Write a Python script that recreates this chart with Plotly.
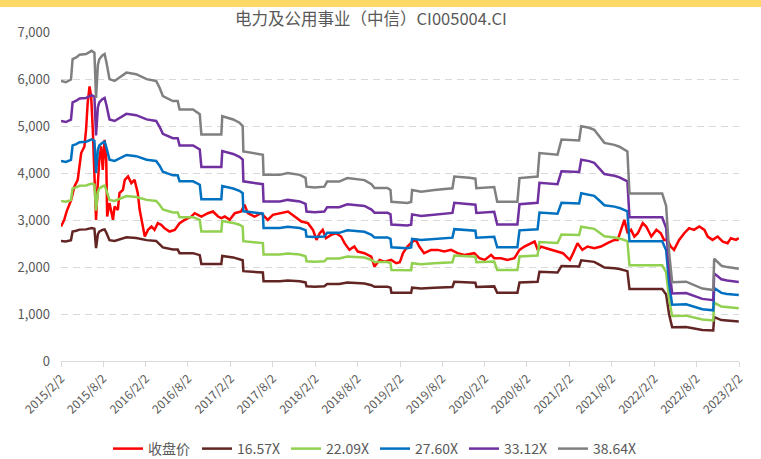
import plotly.graph_objects as go

# ---------------- data ----------------
price_dates = [
    "2015-02-02","2015-02-16","2015-02-26","2015-03-18","2015-04-01","2015-04-15","2015-04-30","2015-05-14",
    "2015-05-21","2015-05-28","2015-06-05","2015-06-12","2015-06-19","2015-06-26","2015-07-03","2015-07-10",
    "2015-07-17","2015-07-25","2015-08-01","2015-08-09","2015-08-16","2015-08-20","2015-08-30","2015-09-14",
    "2015-09-21","2015-10-05","2015-10-12","2015-10-27","2015-11-04","2015-11-18","2015-12-02","2015-12-16",
    "2015-12-23","2015-12-30","2016-01-07","2016-01-17","2016-01-29","2016-02-12","2016-02-27","2016-03-11",
    "2016-03-25","2016-04-09","2016-04-23","2016-05-15","2016-06-06","2016-06-27","2016-07-19","2016-08-17",
    "2016-08-31","2016-09-29","2016-10-27","2016-11-18","2016-12-10","2016-12-24","2017-01-08","2017-01-29",
    "2017-02-20","2017-03-19","2017-04-03","2017-04-17","2017-05-16","2017-06-14","2017-07-12","2017-08-03",
    "2017-09-09","2017-10-07","2017-11-05","2017-12-04","2018-01-01","2018-01-23","2018-02-07","2018-02-21",
    "2018-03-06","2018-03-20","2018-04-11","2018-05-02","2018-05-24","2018-06-08","2018-06-29","2018-07-20",
    "2018-08-04","2018-09-02","2018-10-01","2018-10-15","2018-11-06","2018-11-27","2018-12-26","2019-01-17",
    "2019-02-01","2019-02-15","2019-03-06","2019-03-28","2019-04-12","2019-04-26","2019-05-17","2019-06-16",
    "2019-07-14","2019-08-12","2019-09-10","2019-10-08","2019-11-07","2019-12-19","2020-01-10","2020-02-02",
    "2020-03-01","2020-03-14","2020-04-12","2020-05-11","2020-06-09","2020-07-01","2020-07-22","2020-08-20",
    "2020-09-04","2020-09-18","2020-10-02","2020-10-24","2020-11-15","2020-12-13","2021-01-04","2021-01-26",
    "2021-02-03","2021-02-17","2021-03-08","2021-03-29","2021-04-20","2021-05-19","2021-06-17","2021-07-15",
    "2021-08-14","2021-08-28","2021-09-12","2021-09-26","2021-10-10","2021-10-25","2021-11-08","2021-11-23",
    "2021-12-14","2021-12-29","2022-01-20","2022-02-11","2022-03-02","2022-03-16","2022-03-30","2022-04-14",
    "2022-04-28","2022-05-20","2022-06-11","2022-07-02","2022-07-23","2022-08-15","2022-09-06","2022-09-20",
    "2022-10-11","2022-11-02","2022-11-24","2022-12-15","2022-12-29","2023-01-20","2023-02-01",
]
price_values = [
    2861, 3003, 3180, 3429, 3713, 3855, 4424, 4565,
    4920, 5489, 5843, 5630, 4920, 4068, 3003, 3713,
    4281, 4565, 4068, 4707, 4281, 3074, 3359, 3003,
    3287, 3216, 3572, 3642, 3855, 3926, 3785, 3855,
    3713, 3572, 3216, 2933, 2648, 2790, 2861, 2790,
    2933, 2897, 2826, 2754, 2790, 2933, 3003, 3074,
    3145, 3074, 3145, 3180, 3074, 3038, 3074, 3003,
    3145, 3180, 3323, 3145, 3074, 3145, 3003, 3109,
    3145, 3180, 3074, 2968, 2933, 2790, 2577, 2719,
    2790, 2613, 2684, 2719, 2648, 2507, 2364, 2435,
    2328, 2294, 2222, 2009, 2151, 2115, 2151, 2081,
    2100, 2294, 2435, 2541, 2577, 2435, 2294, 2364,
    2364, 2328, 2364, 2294, 2258, 2294, 2187, 2151,
    2258, 2187, 2187, 2151, 2187, 2364, 2435, 2507,
    2541, 2364, 2435, 2400, 2364, 2328, 2294, 2187,
    2151, 2294, 2507, 2364, 2435, 2400, 2435, 2507,
    2577, 2577, 2790, 3003, 2719, 2790, 2648, 2719,
    2933, 2861, 2648, 2790, 2719, 2577, 2577, 2435,
    2364, 2577, 2719, 2826, 2790, 2861, 2790, 2648,
    2577, 2648, 2541, 2507, 2613, 2577, 2613,
]

# index earnings per share (band = eps * multiple)
eps_dates = [
    "2015-02-02","2015-02-23","2015-03-17","2015-03-24","2015-04-09","2015-04-23","2015-05-21","2015-06-14",
    "2015-06-26","2015-07-03","2015-07-11","2015-07-17","2015-07-30","2015-08-09","2015-08-17","2015-08-30",
    "2015-09-21","2015-10-12","2015-11-11","2015-12-23","2016-02-06","2016-03-18","2016-04-02","2016-04-16",
    "2016-05-29","2016-06-19","2016-06-27","2016-08-24","2016-09-22","2016-09-29","2016-12-24","2016-12-28",
    "2017-02-13","2017-03-12","2017-03-26","2017-03-29","2017-06-07","2017-06-21","2017-06-24","2017-09-02",
    "2017-10-06","2017-11-27","2017-12-22","2017-12-26","2018-01-30","2018-03-13","2018-03-25","2018-05-16",
    "2018-06-20","2018-09-02","2018-10-02","2018-10-15","2018-12-10","2018-12-23","2018-12-27","2019-03-05",
    "2019-03-22","2019-03-26","2019-05-04","2019-06-30","2019-09-16","2019-09-24","2019-11-28","2019-12-24",
    "2019-12-28","2020-03-14","2020-03-27","2020-06-22","2020-07-01","2020-09-17","2020-09-25","2020-12-12",
    "2020-12-29","2021-03-15","2021-03-24","2021-04-27","2021-05-19","2021-06-10","2021-07-02","2021-08-14",
    "2021-09-05","2021-10-09","2021-10-18","2022-03-08","2022-03-25","2022-04-07","2022-04-20","2022-06-19",
    "2022-08-02","2022-08-28","2022-10-14","2022-10-18","2022-11-18","2022-12-13","2023-02-01",
]
eps_values = [
    154.2, 153.5, 155.0, 166.2, 167.2, 168.7, 169.0, 170.8,
    169.8, 144.9, 163.0, 166.1, 168.2, 169.0, 164.3, 155.2,
    154.2, 156.1, 158.8, 157.9, 155.2, 154.2, 150.5, 145.9,
    143.1, 143.1, 138.5, 138.5, 135.9, 124.7, 124.7, 134.8,
    133.0, 131.2, 129.4, 115.4, 113.6, 113.6, 102.5, 102.5,
    103.5, 102.5, 100.9, 96.0, 95.5, 96.0, 98.8, 98.8,
    100.7, 99.6, 97.3, 95.3, 95.3, 94.2, 87.7, 87.0,
    87.5, 94.2, 93.2, 94.2, 95.1, 101.6, 100.9, 100.4,
    95.1, 95.8, 87.7, 87.7, 100.7, 101.6, 114.5, 113.6,
    121.9, 121.4, 129.3, 128.4, 127.3, 123.7, 120.1, 119.0,
    118.0, 115.4, 92.3, 92.3, 85.4, 59.5, 43.4, 43.7,
    41.4, 39.9, 39.1, 56.3, 52.5, 51.7, 50.8,
]

band_multiples = [16.57, 22.09, 27.60, 33.12, 38.64]
band_names = ["16.57X", "22.09X", "27.60X", "33.12X", "38.64X"]
band_colors = ["#632523", "#92D050", "#0070C0", "#7030A0", "#808080"]

tick_dates = ["2015-02-02","2015-08-02","2016-02-02","2016-08-02","2017-02-02","2017-08-02",
              "2018-02-02","2018-08-02","2019-02-02","2019-08-02","2020-02-02","2020-08-02",
              "2021-02-02","2021-08-02","2022-02-02","2022-08-02","2023-02-02"]
tick_labels = ["2015/2/2","2015/8/2","2016/2/2","2016/8/2","2017/2/2","2017/8/2",
               "2018/2/2","2018/8/2","2019/2/2","2019/8/2","2020/2/2","2020/8/2",
               "2021/2/2","2021/8/2","2022/2/2","2022/8/2","2023/2/2"]

title_text = "电力及公用事业（中信）CI005004.CI"

# ---------------- figure ----------------
FONT = "Noto Sans CJK SC, Noto Sans, sans-serif"
TXT = "#595959"

fig = go.Figure()
fig.add_trace(go.Scatter(x=price_dates, y=price_values, mode="lines", name="收盘价",
                         line=dict(color="#FF0000", width=2.5)))
for m, nm, col in zip(band_multiples, band_names, band_colors):
    fig.add_trace(go.Scatter(x=eps_dates, y=[e * m for e in eps_values], mode="lines", name=nm,
                             line=dict(color=col, width=2.5)))

W, H = 761, 459
L, R, T, B = 61, 22, 32, 98
fig.update_layout(
    width=W, height=H,
    margin=dict(l=L, r=R, t=T, b=B),
    paper_bgcolor="white", plot_bgcolor="white",
    font=dict(family=FONT, color=TXT, size=12),
    title=dict(text=title_text, x=0.4875, xref="container", xanchor="center",
               y=1 - 19 / H, yref="container", yanchor="middle",
               font=dict(size=16.5, color=TXT, family=FONT)),
    showlegend=True,
    legend=dict(orientation="h", xref="container", yref="container",
                x=375 / W, xanchor="center", y=1 - 433 / H, yanchor="top",
                font=dict(size=14, color=TXT, family=FONT),
                itemwidth=30, entrywidth=44, tracegroupgap=0,
                bgcolor="rgba(0,0,0,0)"),
    hovermode=False,
)
fig.update_xaxes(
    type="date", range=["2015-02-02", "2023-02-02"],
    tickvals=tick_dates, ticktext=tick_labels, tickangle=-45,
    tickfont=dict(size=12, color=TXT),
    showgrid=False, zeroline=False, automargin=False,
    showline=True, linecolor="#D9D9D9", linewidth=1,
    ticks="outside", ticklen=5, tickcolor="#D9D9D9",
)
fig.update_yaxes(
    range=[0, 7000], tickvals=[0, 1000, 2000, 3000, 4000, 5000, 6000, 7000],
    tickformat=",d", tickfont=dict(size=13, color=TXT),
    showgrid=True, gridcolor="#D9D9D9", griddash="7px,5px", gridwidth=1,
    zeroline=False, showline=False, ticks="", ticklabelstandoff=10, automargin=False,
)
# decorative yellow strip on top edge
pw = W - L - R
ph = H - T - B
fig.add_shape(type="rect", xref="paper", yref="paper",
              x0=-L / pw, x1=1 + R / pw, y0=1 + (T - 7) / ph, y1=1 + T / ph,
              fillcolor="#FFD966", line=dict(width=0), layer="below")

fig.write_html("out.html", config={"displayModeBar": False},
               post_script="document.body.style.margin='0';document.body.style.overflow='hidden';")
